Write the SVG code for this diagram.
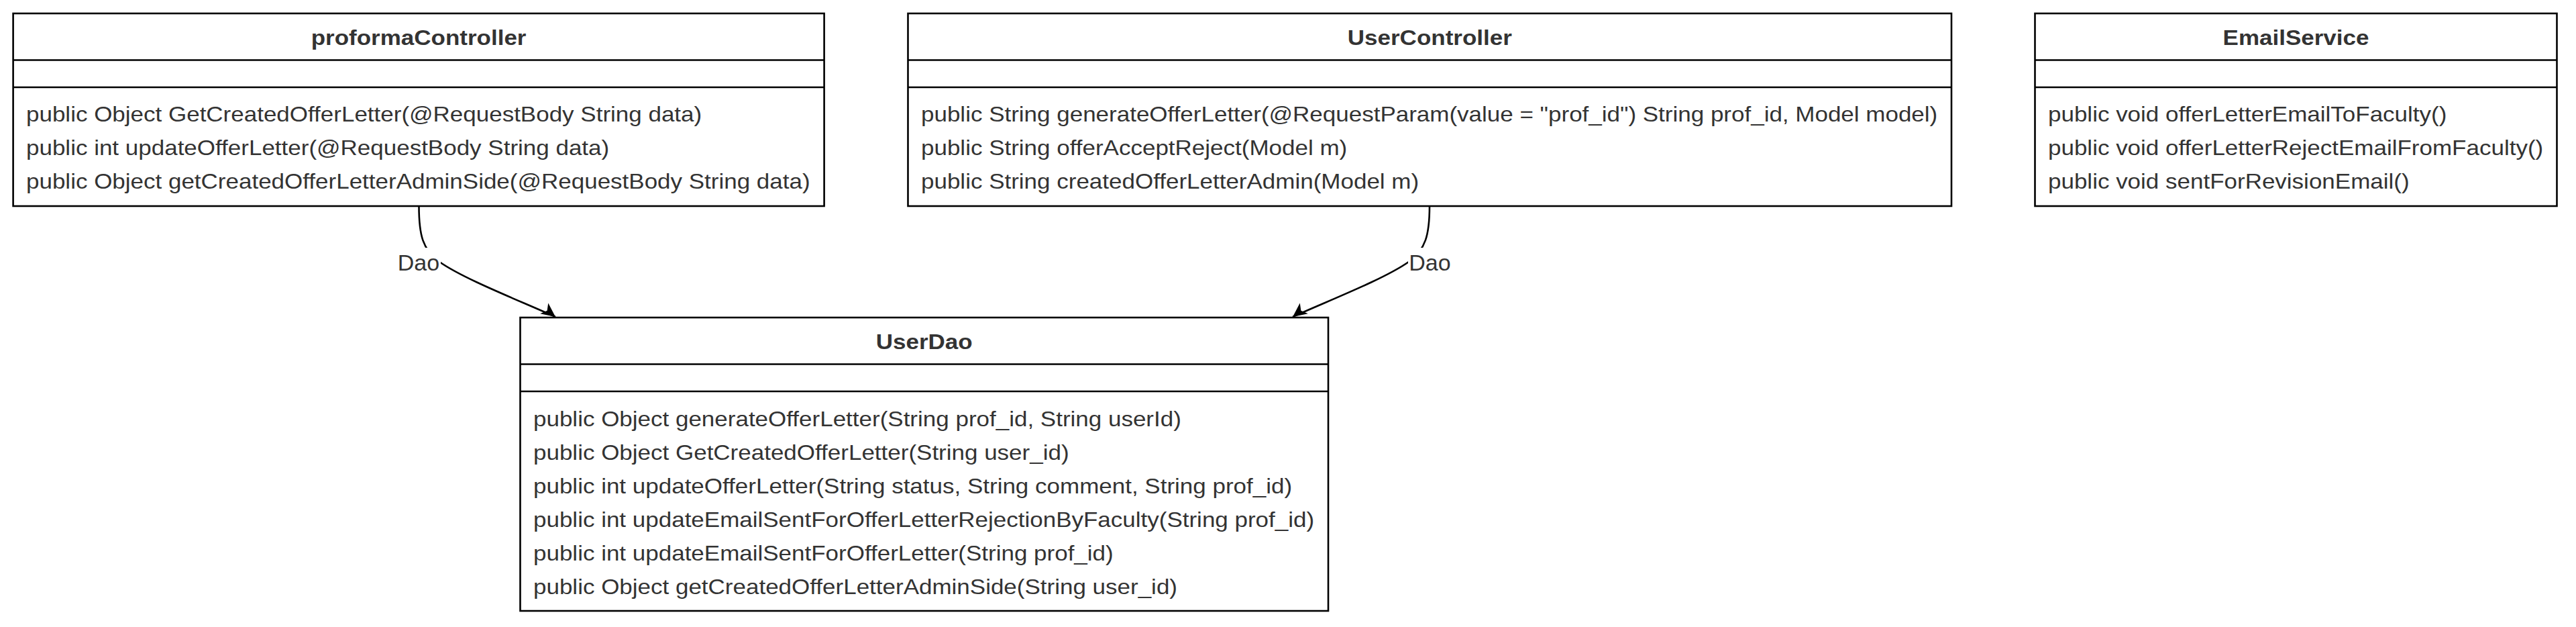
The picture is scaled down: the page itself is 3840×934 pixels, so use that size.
<svg xmlns="http://www.w3.org/2000/svg" width="3840" height="934" viewBox="0 0 3840 934">
<style>
.box{fill:#ffffff;stroke:#000000;stroke-width:2.6}
.sep{stroke:#000000;stroke-width:2.6}
.t{font-family:"Liberation Sans",Arial,Helvetica,sans-serif;font-size:32px;fill:#333333}
.b{font-weight:bold}
.lbl{font-family:"Liberation Sans",Arial,Helvetica,sans-serif;font-size:34px;fill:#333333}
.edge{fill:none;stroke:#000000;stroke-width:2.6}
.lbg{fill:#ffffff;stroke:none}
</style>
<defs>
<marker id="arrowR" markerUnits="userSpaceOnUse" viewBox="-24 -12 26 24" refX="0" refY="0" markerWidth="26" markerHeight="24" orient="37">
<path d="M0,0 L-21,-10 L-15.5,0 L-21,10 Z" fill="#000000"/>
</marker>
<marker id="arrowL" markerUnits="userSpaceOnUse" viewBox="-24 -12 26 24" refX="0" refY="0" markerWidth="26" markerHeight="24" orient="143">
<path d="M0,0 L-21,-10 L-15.5,0 L-21,10 Z" fill="#000000"/>
</marker>
</defs>
<rect x="0" y="0" width="3840" height="934" fill="#ffffff"/>

<g id="proformaController">
<rect class="box" x="19.6" y="20" width="1209" height="287"/>
<line class="sep" x1="19.6" y1="89.5" x2="1228.6" y2="89.5"/>
<line class="sep" x1="19.6" y1="130" x2="1228.6" y2="130"/>
<text class="t b" text-anchor="middle" transform="translate(624.1,67) scale(1.094,1)">proformaController</text>
<g transform="translate(39,0) scale(1.094,1)">
<text class="t" x="0" y="181.5">public Object GetCreatedOfferLetter(@RequestBody String data)</text>
<text class="t" x="0" y="231.5">public int updateOfferLetter(@RequestBody String data)</text>
<text class="t" x="0" y="281.5">public Object getCreatedOfferLetterAdminSide(@RequestBody String data)</text>
</g>
</g>

<g id="UserController">
<rect class="box" x="1353.5" y="20" width="1555.5" height="287"/>
<line class="sep" x1="1353.5" y1="89.5" x2="2909" y2="89.5"/>
<line class="sep" x1="1353.5" y1="130" x2="2909" y2="130"/>
<text class="t b" text-anchor="middle" transform="translate(2131.3,67) scale(1.094,1)">UserController</text>
<g transform="translate(1373,0) scale(1.094,1)">
<text class="t" x="0" y="181.5">public String generateOfferLetter(@RequestParam(value = "prof_id") String prof_id, Model model)</text>
<text class="t" x="0" y="231.5">public String offerAcceptReject(Model m)</text>
<text class="t" x="0" y="281.5">public String createdOfferLetterAdmin(Model m)</text>
</g>
</g>

<g id="EmailService">
<rect class="box" x="3033.5" y="20" width="778" height="287"/>
<line class="sep" x1="3033.5" y1="89.5" x2="3811.5" y2="89.5"/>
<line class="sep" x1="3033.5" y1="130" x2="3811.5" y2="130"/>
<text class="t b" text-anchor="middle" transform="translate(3422.5,67) scale(1.094,1)">EmailService</text>
<g transform="translate(3053,0) scale(1.094,1)">
<text class="t" x="0" y="181.5">public void offerLetterEmailToFaculty()</text>
<text class="t" x="0" y="231.5">public void offerLetterRejectEmailFromFaculty()</text>
<text class="t" x="0" y="281.5">public void sentForRevisionEmail()</text>
</g>
</g>

<g id="UserDao">
<rect class="box" x="775.5" y="473" width="1204.5" height="437"/>
<line class="sep" x1="775.5" y1="542.5" x2="1980" y2="542.5"/>
<line class="sep" x1="775.5" y1="583" x2="1980" y2="583"/>
<text class="t b" text-anchor="middle" transform="translate(1377.7,520) scale(1.094,1)">UserDao</text>
<g transform="translate(795,0) scale(1.094,1)">
<text class="t" x="0" y="635">public Object generateOfferLetter(String prof_id, String userId)</text>
<text class="t" x="0" y="685">public Object GetCreatedOfferLetter(String user_id)</text>
<text class="t" x="0" y="735">public int updateOfferLetter(String status, String comment, String prof_id)</text>
<text class="t" x="0" y="785">public int updateEmailSentForOfferLetterRejectionByFaculty(String prof_id)</text>
<text class="t" x="0" y="835">public int updateEmailSentForOfferLetter(String prof_id)</text>
<text class="t" x="0" y="885">public Object getCreatedOfferLetterAdminSide(String user_id)</text>
</g>
</g>

<g id="connectors">
<path class="edge" d="M624.5,307 C624.5,350 630,372 655,390 C692,416 775,448 828,472" marker-end="url(#arrowR)"/>
<rect class="lbg" x="591" y="369" width="66" height="40"/>
<text class="lbl" text-anchor="middle" x="624" y="402.5">Dao</text>
<path class="edge" d="M2131,307 C2131,350 2125,372 2100,390 C2063,416 1980,448 1927,472" marker-end="url(#arrowL)"/>
<rect class="lbg" x="2099" y="369" width="66" height="40"/>
<text class="lbl" text-anchor="middle" x="2131.5" y="402.5">Dao</text>
</g>
</svg>
